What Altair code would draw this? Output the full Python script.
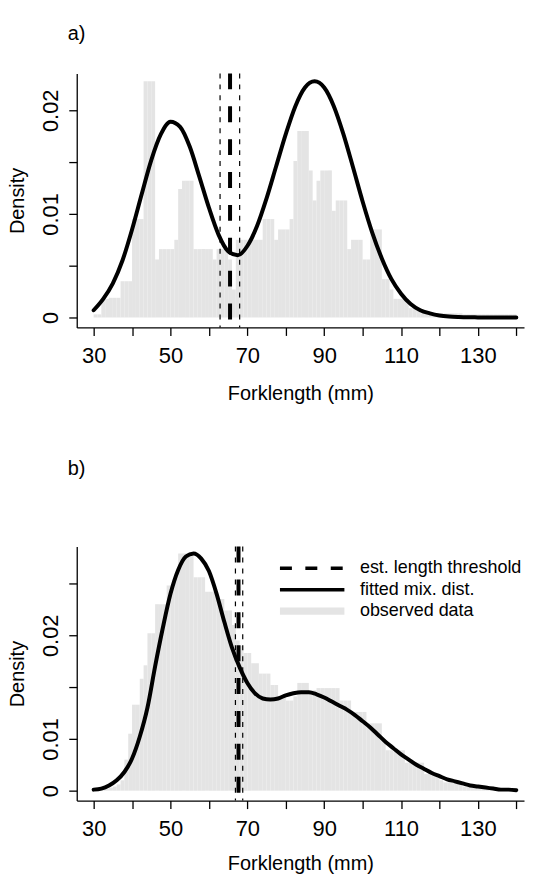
import altair as alt
import pandas as pd

# ---------------- data ----------------
BIN_START = list(range(30, 140))          # 1-mm histogram bins
HIST_A = [
    0.0003, 0.0003, 0.0018, 0.0018, 0.0019, 0.0019, 0.0019, 0.0035, 0.0035, 0.0035,
    0.0095, 0.0095, 0.0095, 0.0228, 0.0228, 0.0228, 0.0056, 0.0066, 0.0066, 0.0066,
    0.0066, 0.0075, 0.0124, 0.0132, 0.0132, 0.0132, 0.0066, 0.0066, 0.0066, 0.0066,
    0.0066, 0.0056, 0.0066, 0.0066, 0.0066, 0.0056, 0.0027, 0.0075, 0.0075, 0.0075,
    0.0075, 0.0075, 0.0075, 0.0075, 0.0095, 0.0095, 0.0095, 0.0075, 0.0085, 0.0085,
    0.0085, 0.0095, 0.0151, 0.0180, 0.0180, 0.0180, 0.0142, 0.0113, 0.0132, 0.0142,
    0.0142, 0.0142, 0.0103, 0.0113, 0.0113, 0.0113, 0.0066, 0.0075, 0.0075, 0.0075,
    0.0056, 0.0056, 0.0085, 0.0085, 0.0085, 0.0037, 0.0037, 0.0027, 0.0018, 0.0018,
    0.0018, 0.0018, 0.0009, 0.0009, 0.0009, 0.0004, 0.0004, 0.0004, 0.0004, 0.0004,
    0.0004, 0.0004, 0.0004, 0.0004, 0.0004, 0.0004, 0.0003, 0.0003, 0.0003, 0.0003,
    0.0003, 0.0003, 0.0003, 0.0003, 0.0003, 0.0003, 0.0003, 0.0003, 0.0003, 0.0003,
]
HIST_B = [
    0.0001, 0.0001, 0.0002, 0.0002, 0.0003, 0.0004, 0.0006, 0.0010, 0.0030, 0.0055,
    0.0083, 0.0083, 0.0108, 0.0121, 0.0152, 0.0152, 0.0180, 0.0180, 0.0180, 0.0198,
    0.0198, 0.0206, 0.0229, 0.0229, 0.0229, 0.0229, 0.0206, 0.0206, 0.0206, 0.0192,
    0.0192, 0.0192, 0.0185, 0.0185, 0.0174, 0.0174, 0.0160, 0.0145, 0.0140, 0.0133,
    0.0133, 0.0123, 0.0123, 0.0113, 0.0113, 0.0113, 0.0102, 0.0102, 0.0091, 0.0091,
    0.0087, 0.0087, 0.0091, 0.0104, 0.0104, 0.0104, 0.0097, 0.0097, 0.0099, 0.0099,
    0.0099, 0.0099, 0.0099, 0.0099, 0.0087, 0.0087, 0.0087, 0.0076, 0.0076, 0.0076,
    0.0076, 0.0065, 0.0065, 0.0065, 0.0065, 0.0050, 0.0039, 0.0039, 0.0039, 0.0039,
    0.0039, 0.0027, 0.0027, 0.0027, 0.0027, 0.0027, 0.0016, 0.0016, 0.0016, 0.0016,
    0.0010, 0.0008, 0.0008, 0.0008, 0.0008, 0.0008, 0.0004, 0.0004, 0.0004, 0.0004,
    0.0004, 0.0002, 0.0002, 0.0002, 0.0002, 0.0002, 0.0002, 0.0002, 0.0002, 0.0002,
]

CURVE_A_X = [30, 32.5, 35, 37.5, 40, 42.5, 45, 47.5, 50, 52.5, 55, 57.5, 60, 62.5,
             65, 67.5, 70, 72.5, 75, 77.5, 80, 82.5, 85, 87.5, 90, 92.5, 95, 97.5,
             100, 102.5, 105, 107.5, 110, 112.5, 115, 117.5, 120, 122.5, 125, 127.5,
             130, 132.5, 135, 137.5, 140]
CURVE_A_Y = [0.0007, 0.0018, 0.0033, 0.0055, 0.0085, 0.0119, 0.0152, 0.0177, 0.0189,
             0.0184, 0.0165, 0.0136, 0.0106, 0.0080, 0.0064, 0.0060, 0.0069, 0.0088,
             0.0115, 0.0146, 0.0177, 0.0204, 0.0222, 0.0228, 0.0222, 0.0204, 0.0177,
             0.0145, 0.0112, 0.0082, 0.0057, 0.0037, 0.0023, 0.0013, 0.0007, 0.0004,
             0.0002, 0.0001, 0.00005, 0.00002, 0.00001, 0.0, 0.0, 0.0, 0.0]

CURVE_B_X = [30, 32, 34, 36, 38, 40, 42, 44, 46, 48, 50, 52, 54, 56, 58, 60, 62, 64,
             66, 68, 70, 72, 74, 76, 78, 80, 82, 84, 86, 88, 90, 92, 94, 96, 98, 100,
             102, 104, 106, 108, 110, 112, 114, 116, 118, 120, 122, 124, 126, 128,
             130, 132, 134, 136, 138, 140]
CURVE_B_Y = [0.0001, 0.0002, 0.0005, 0.0010, 0.0018, 0.0031, 0.0052, 0.0080, 0.0120,
             0.0157, 0.0190, 0.0213, 0.0226, 0.0229, 0.0224, 0.0212, 0.0190, 0.0163,
             0.0138, 0.0119, 0.0104, 0.0094, 0.0089, 0.0088, 0.0089, 0.0092, 0.0094,
             0.0095, 0.0095, 0.0093, 0.0090, 0.0086, 0.0082, 0.0078, 0.0073, 0.0067,
             0.0061, 0.0054, 0.0047, 0.0041, 0.0035, 0.0030, 0.0025, 0.0021, 0.0017,
             0.0014, 0.0011, 0.0009, 0.0007, 0.0005, 0.0004, 0.0003, 0.0002, 0.0001,
             0.0001, 0.00005]

THRESH_A = 65.5
CI_A = [62.9, 68.0]
THRESH_B = 67.7
CI_B = [66.9, 68.8]

PANEL_TITLES = ["a)", "b)"]
LEGEND_LABELS = ["est. length threshold", "fitted mix. dist.", "observed data"]
X_TICKS = [30, 40, 50, 60, 70, 80, 90, 100, 110, 120, 130, 140]
Y_TICKS = [0, 0.005, 0.01, 0.015, 0.02]

# ---------------- styling ----------------
FONT = "Liberation Sans"
GREY = "#e4e4e4"
W, H = 449, 255

xscale = alt.Scale(domain=[25.6, 142], nice=False, zero=False)
yscale = alt.Scale(domain=[-0.00096, 0.02356], nice=False, zero=False)


def x_axis(title_pad):
    return alt.Axis(
        values=X_TICKS, title="Forklength (mm)",
        labelExpr="((datum.value - 30) % 20 == 0 && datum.value < 140) ? datum.label : ''",
        labelOverlap=False, labelFlush=False, labelPadding=10, titlePadding=title_pad,
    )


def y_axis(expr):
    return alt.Axis(
        values=Y_TICKS, title="Density", labelExpr=expr,
        labelAngle=270, labelAlign="center", labelBaseline="alphabetic",
        labelPadding=11, labelOverlap=False, labelFlush=False,
        titleAngle=270, titleAlign="center", titleBaseline="alphabetic",
        titleX=-53, titleY=H / 2,
    )


Y_EXPR_A = ("datum.value == 0 ? '0' : (abs(datum.value - 0.01) < 1e-9 ? '0.01' : "
            "(abs(datum.value - 0.02) < 1e-9 ? '0.02' : ''))")
Y_EXPR_B = ("datum.value == 0 ? '0' : (abs(datum.value - 0.005) < 1e-9 ? '0.01' : "
            "(abs(datum.value - 0.015) < 1e-9 ? '0.02' : ''))")


def panel(hist, cx, cy, thr, ci, yexpr, title, title_offset, title_pad, legend=False):
    ya = y_axis(yexpr)
    xa = x_axis(title_pad)
    df_h = pd.DataFrame({"start": BIN_START,
                         "end": [b + 1 for b in BIN_START],
                         "dens": hist,
                         "base": [0.0] * len(BIN_START)})
    df_c = pd.DataFrame({"x": cx, "y": cy})
    df_ci = pd.DataFrame({"x": ci})
    df_t = pd.DataFrame({"x": [thr]})

    h = alt.Chart(df_h).mark_rect(color=GREY).encode(
        x=alt.X("start:Q", scale=xscale, axis=xa),
        x2="end:Q",
        y=alt.Y("dens:Q", scale=yscale, axis=ya),
        y2="base:Q",
    )
    c = alt.Chart(df_c).mark_line(color="black", strokeWidth=4, interpolate="monotone",
                                  strokeCap="round").encode(
        x=alt.X("x:Q", scale=xscale, axis=xa),
        y=alt.Y("y:Q", scale=yscale, axis=ya),
    )
    r_ci = alt.Chart(df_ci).mark_rule(color="black", strokeWidth=1.2,
                                      strokeDash=[5, 6]).encode(
        x=alt.X("x:Q", scale=xscale, axis=xa))
    r_t = alt.Chart(df_t).mark_rule(color="black", strokeWidth=4,
                                    strokeDash=[16, 17]).encode(
        x=alt.X("x:Q", scale=xscale, axis=xa))

    layers = [h, r_ci, r_t, c]

    if legend:
        sx1, sx2, tx = 204, 268.7, 284.3
        rows = [21.7, 43.3, 64.8]
        styles = [dict(strokeWidth=3.5, strokeDash=[12, 13.5], color="black"),
                  dict(strokeWidth=3.5, color="black"),
                  dict(strokeWidth=7.3, color=GREY)]
        for lab, ry, st in zip(LEGEND_LABELS, rows, styles):
            d = pd.DataFrame({"label": [lab]})
            layers.append(alt.Chart(d).mark_rule(**st).encode(
                x=alt.value(sx1), x2=alt.value(sx2), y=alt.value(ry)))
            layers.append(alt.Chart(d).mark_text(
                align="left", baseline="middle", font=FONT, fontSize=18,
                color="black").encode(x=alt.value(tx), y=alt.value(ry), text="label:N"))

    return alt.layer(*layers).properties(
        width=W, height=H,
        title=alt.Title(title, anchor="start", frame="group", dx=-9, offset=title_offset,
                        fontSize=20, fontWeight="normal", font=FONT, color="black"),
    )


pa = panel(HIST_A, CURVE_A_X, CURVE_A_Y, THRESH_A, CI_A, Y_EXPR_A, PANEL_TITLES[0],
           28, 17)
pb = panel(HIST_B, CURVE_B_X, CURVE_B_Y, THRESH_B, CI_B, Y_EXPR_B, PANEL_TITLES[1],
           66, 14, legend=True)

chart = alt.vconcat(pa, pb, spacing=56).properties(
    padding={"left": 0, "top": 14, "right": 0, "bottom": 0}
).configure_view(stroke=None).configure_axis(
    domainColor="black", domainWidth=1.3, tickColor="black", tickWidth=1.3,
    tickSize=8, labelColor="black", titleColor="black", grid=False,
    labelFont=FONT, titleFont=FONT, labelFontSize=22, titleFontSize=20,
    titleFontWeight="normal",
)

chart.save("out.html", embed_options={"renderer": "svg", "actions": False})
